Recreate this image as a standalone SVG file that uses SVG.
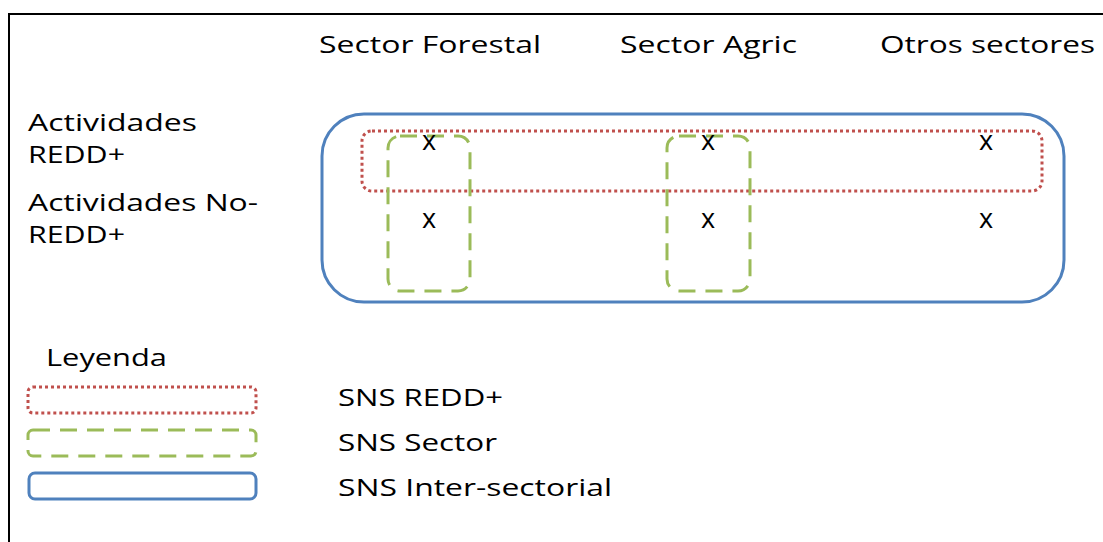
<svg xmlns="http://www.w3.org/2000/svg" width="1103" height="542" viewBox="0 0 1103 542">
<style>
text{font-family:"Open Sans","DejaVu Sans",sans-serif;fill:#000;}
.lbl{font-size:24px;}
.x{font-size:27px;text-anchor:middle;}
.blue{fill:none;stroke:#4F81BD;stroke-width:3;}
.red{fill:none;stroke:#C0504D;stroke-width:3;stroke-dasharray:3 3;}
.green{fill:none;stroke:#9BBB59;stroke-width:3;stroke-dasharray:17 10;}
</style>
<rect width="1103" height="542" fill="#fff"/>
<path d="M9 542 V14 H1103" fill="none" stroke="#000" stroke-width="2"/>
<g id="headers">
<text class="lbl" x="319" y="53" textLength="222" lengthAdjust="spacingAndGlyphs">Sector Forestal</text>
<text class="lbl" x="620" y="53" textLength="177" lengthAdjust="spacingAndGlyphs">Sector Agric</text>
<text class="lbl" x="880" y="53" textLength="215" lengthAdjust="spacingAndGlyphs">Otros sectores</text>
</g>
<g id="rows">
<text class="lbl" x="28" y="131" textLength="169" lengthAdjust="spacingAndGlyphs">Actividades</text>
<text class="lbl" x="28" y="163" textLength="97" lengthAdjust="spacingAndGlyphs">REDD+</text>
<text class="lbl" x="28" y="211" textLength="230" lengthAdjust="spacingAndGlyphs">Actividades No-</text>
<text class="lbl" x="28" y="243" textLength="97" lengthAdjust="spacingAndGlyphs">REDD+</text>
</g>
<g id="inter-sectorial"><rect class="blue" x="322" y="114" width="742" height="188" rx="42"/></g>
<g id="redd"><rect class="red" x="362" y="131" width="680" height="60" rx="10"/></g>
<g id="sector-forestal"><rect class="green" x="388" y="136" width="82" height="155" rx="12"/></g>
<g id="sector-agric"><rect class="green" x="667" y="136" width="83" height="155" rx="12"/></g>
<g id="marks">
<text class="x" x="429" y="150">x</text>
<text class="x" x="708" y="150">x</text>
<text class="x" x="986" y="150">x</text>
<text class="x" x="429" y="228">x</text>
<text class="x" x="708" y="228">x</text>
<text class="x" x="986" y="228">x</text>
</g>
<g id="legend">
<text class="lbl" x="46" y="366" textLength="121" lengthAdjust="spacingAndGlyphs">Leyenda</text>
<rect class="red" x="28" y="387" width="228" height="26" rx="5"/>
<rect class="green" x="28" y="430" width="228" height="26" rx="5"/>
<rect class="blue" x="29" y="473" width="227" height="26" rx="6"/>
<text class="lbl" x="338" y="406" textLength="165" lengthAdjust="spacingAndGlyphs">SNS REDD+</text>
<text class="lbl" x="338" y="451" textLength="159" lengthAdjust="spacingAndGlyphs">SNS Sector</text>
<text class="lbl" x="338" y="496" textLength="274" lengthAdjust="spacingAndGlyphs">SNS Inter-sectorial</text>
</g>
</svg>
